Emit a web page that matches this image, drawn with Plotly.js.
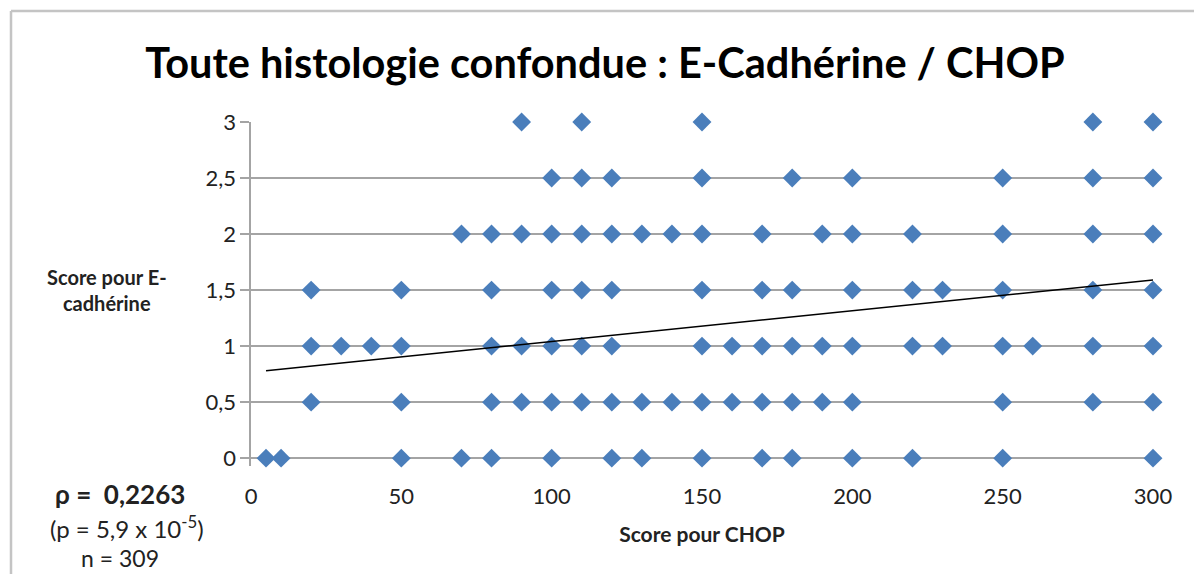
<!DOCTYPE html>
<html>
<head>
<meta charset="utf-8">
<script src="https://cdn.plot.ly/plotly-3.0.1.min.js"></script>
<style>
html,body{margin:0;padding:0;background:#fff;}
#chart{width:1194px;height:574px;}
</style>
</head>
<body>
<div id="chart"></div>
<script>
// E-cadherin score levels and the CHOP scores observed at each level
const chop_at_0   = [5,10,50,70,80,100,120,130,150,170,180,200,220,250,300];
const chop_at_0_5 = [20,50,80,90,100,110,120,130,140,150,160,170,180,190,200,250,280,300];
const chop_at_1   = [20,30,40,50,80,90,100,110,120,150,160,170,180,190,200,220,230,250,260,280,300];
const chop_at_1_5 = [20,50,80,100,110,120,150,170,180,200,220,230,250,280,300];
const chop_at_2   = [70,80,90,100,110,120,130,140,150,170,190,200,220,250,280,300];
const chop_at_2_5 = [100,110,120,150,180,200,250,280,300];
const chop_at_3   = [90,110,150,280,300];
const ecad_levels = [0,0.5,1,1.5,2,2.5,3];
const chop_rows = [chop_at_0,chop_at_0_5,chop_at_1,chop_at_1_5,chop_at_2,chop_at_2_5,chop_at_3];

// linear trend line
const trend_x = [5,300];
const trend_y = [0.78,1.59];

const xTicks = [0,50,100,150,200,250,300];
const yTicks = [0,0.5,1,1.5,2,2.5,3];

const px = [], py = [];
chop_rows.forEach((row,i)=>row.forEach(v=>{px.push(v);py.push(ecad_levels[i]);}));

const FONT = 'Lato, "Open Sans", sans-serif';
const W = 1194, H = 574;
const m = {l:251, r:41, t:122, b:108};
const pw = W - m.l - m.r, ph = H - m.t - m.b;
const toPX = p => (p - m.l)/pw;
const toPY = p => 1 - (p - m.t)/ph;

const traces = [
  {x:px, y:py, type:'scatter', mode:'markers', cliponaxis:false,
   marker:{symbol:'diamond', size:14.5, color:'#4a7ebb'}, hoverinfo:'x+y'},
  {x:trend_x, y:trend_y, type:'scatter', mode:'lines', cliponaxis:false,
   line:{color:'#000', width:1.5}, hoverinfo:'skip'}
];

const layout = {
  width:W, height:H, margin:m, showlegend:false,
  paper_bgcolor:'#fff', plot_bgcolor:'#fff',
  separators:', ',
  font:{family:FONT, color:'#222', size:16},
  title:{text:'<b>Toute histologie confondue : E-Cadhérine / CHOP</b>',
         font:{family:FONT, size:41.5, color:'#000'},
         xref:'container', yref:'container', x:605/W, xanchor:'center', y:1-63/H, yanchor:'middle'},
  xaxis:{range:[0,300], tickvals:xTicks, showgrid:false, zeroline:false,
         showline:false, ticks:'', ticklabelstandoff:15,
         tickfont:{family:FONT, size:22, color:'#222'},
         title:{text:'<b>Score pour CHOP</b>', font:{family:FONT, size:21, color:'#222'}, standoff:19}},
  yaxis:{range:[-0.07,3], tickvals:yTicks, showgrid:true, gridcolor:'#a4a4a4', gridwidth:1.4,
         zeroline:false, showline:true, linecolor:'#a4a4a4', linewidth:1.6,
         ticks:'outside', ticklen:9, tickcolor:'#a4a4a4', tickwidth:1.4,
         tickfont:{family:FONT, size:22, color:'#222'}},
  annotations:[
    {text:'<b>Score pour E-<br>cadhérine</b>', xref:'paper', yref:'paper',
     x:toPX(107), y:toPY(290), xanchor:'center', yanchor:'middle', showarrow:false,
     align:'center', font:{family:FONT, size:20, color:'#222'}},
    {text:'<b>ρ =  0,2263</b>', xref:'paper', yref:'paper',
     x:toPX(120), y:toPY(494), xanchor:'center', yanchor:'middle', showarrow:false,
     font:{family:FONT, size:26, color:'#222'}},
    {text:'(p = 5,9 x 10<sup>-5</sup>)', xref:'paper', yref:'paper',
     x:toPX(127), y:toPY(527), xanchor:'center', yanchor:'middle', showarrow:false,
     font:{family:FONT, size:24, color:'#222'}},
    {text:'n = 309', xref:'paper', yref:'paper',
     x:toPX(120), y:toPY(558), xanchor:'center', yanchor:'middle', showarrow:false,
     font:{family:FONT, size:23, color:'#222'}}
  ],
  shapes:[
    {type:'line', xref:'paper', yref:'paper', x0:toPX(11), x1:toPX(W), y0:toPY(11), y1:toPY(11),
     line:{color:'#c4c4c4', width:2.5}},
    {type:'line', xref:'paper', yref:'paper', x0:toPX(11), x1:toPX(11), y0:toPY(11), y1:toPY(H),
     line:{color:'#c4c4c4', width:2.5}}
  ]
};

Plotly.newPlot('chart', traces, layout, {staticPlot:true, displayModeBar:false});
</script>
</body>
</html>
